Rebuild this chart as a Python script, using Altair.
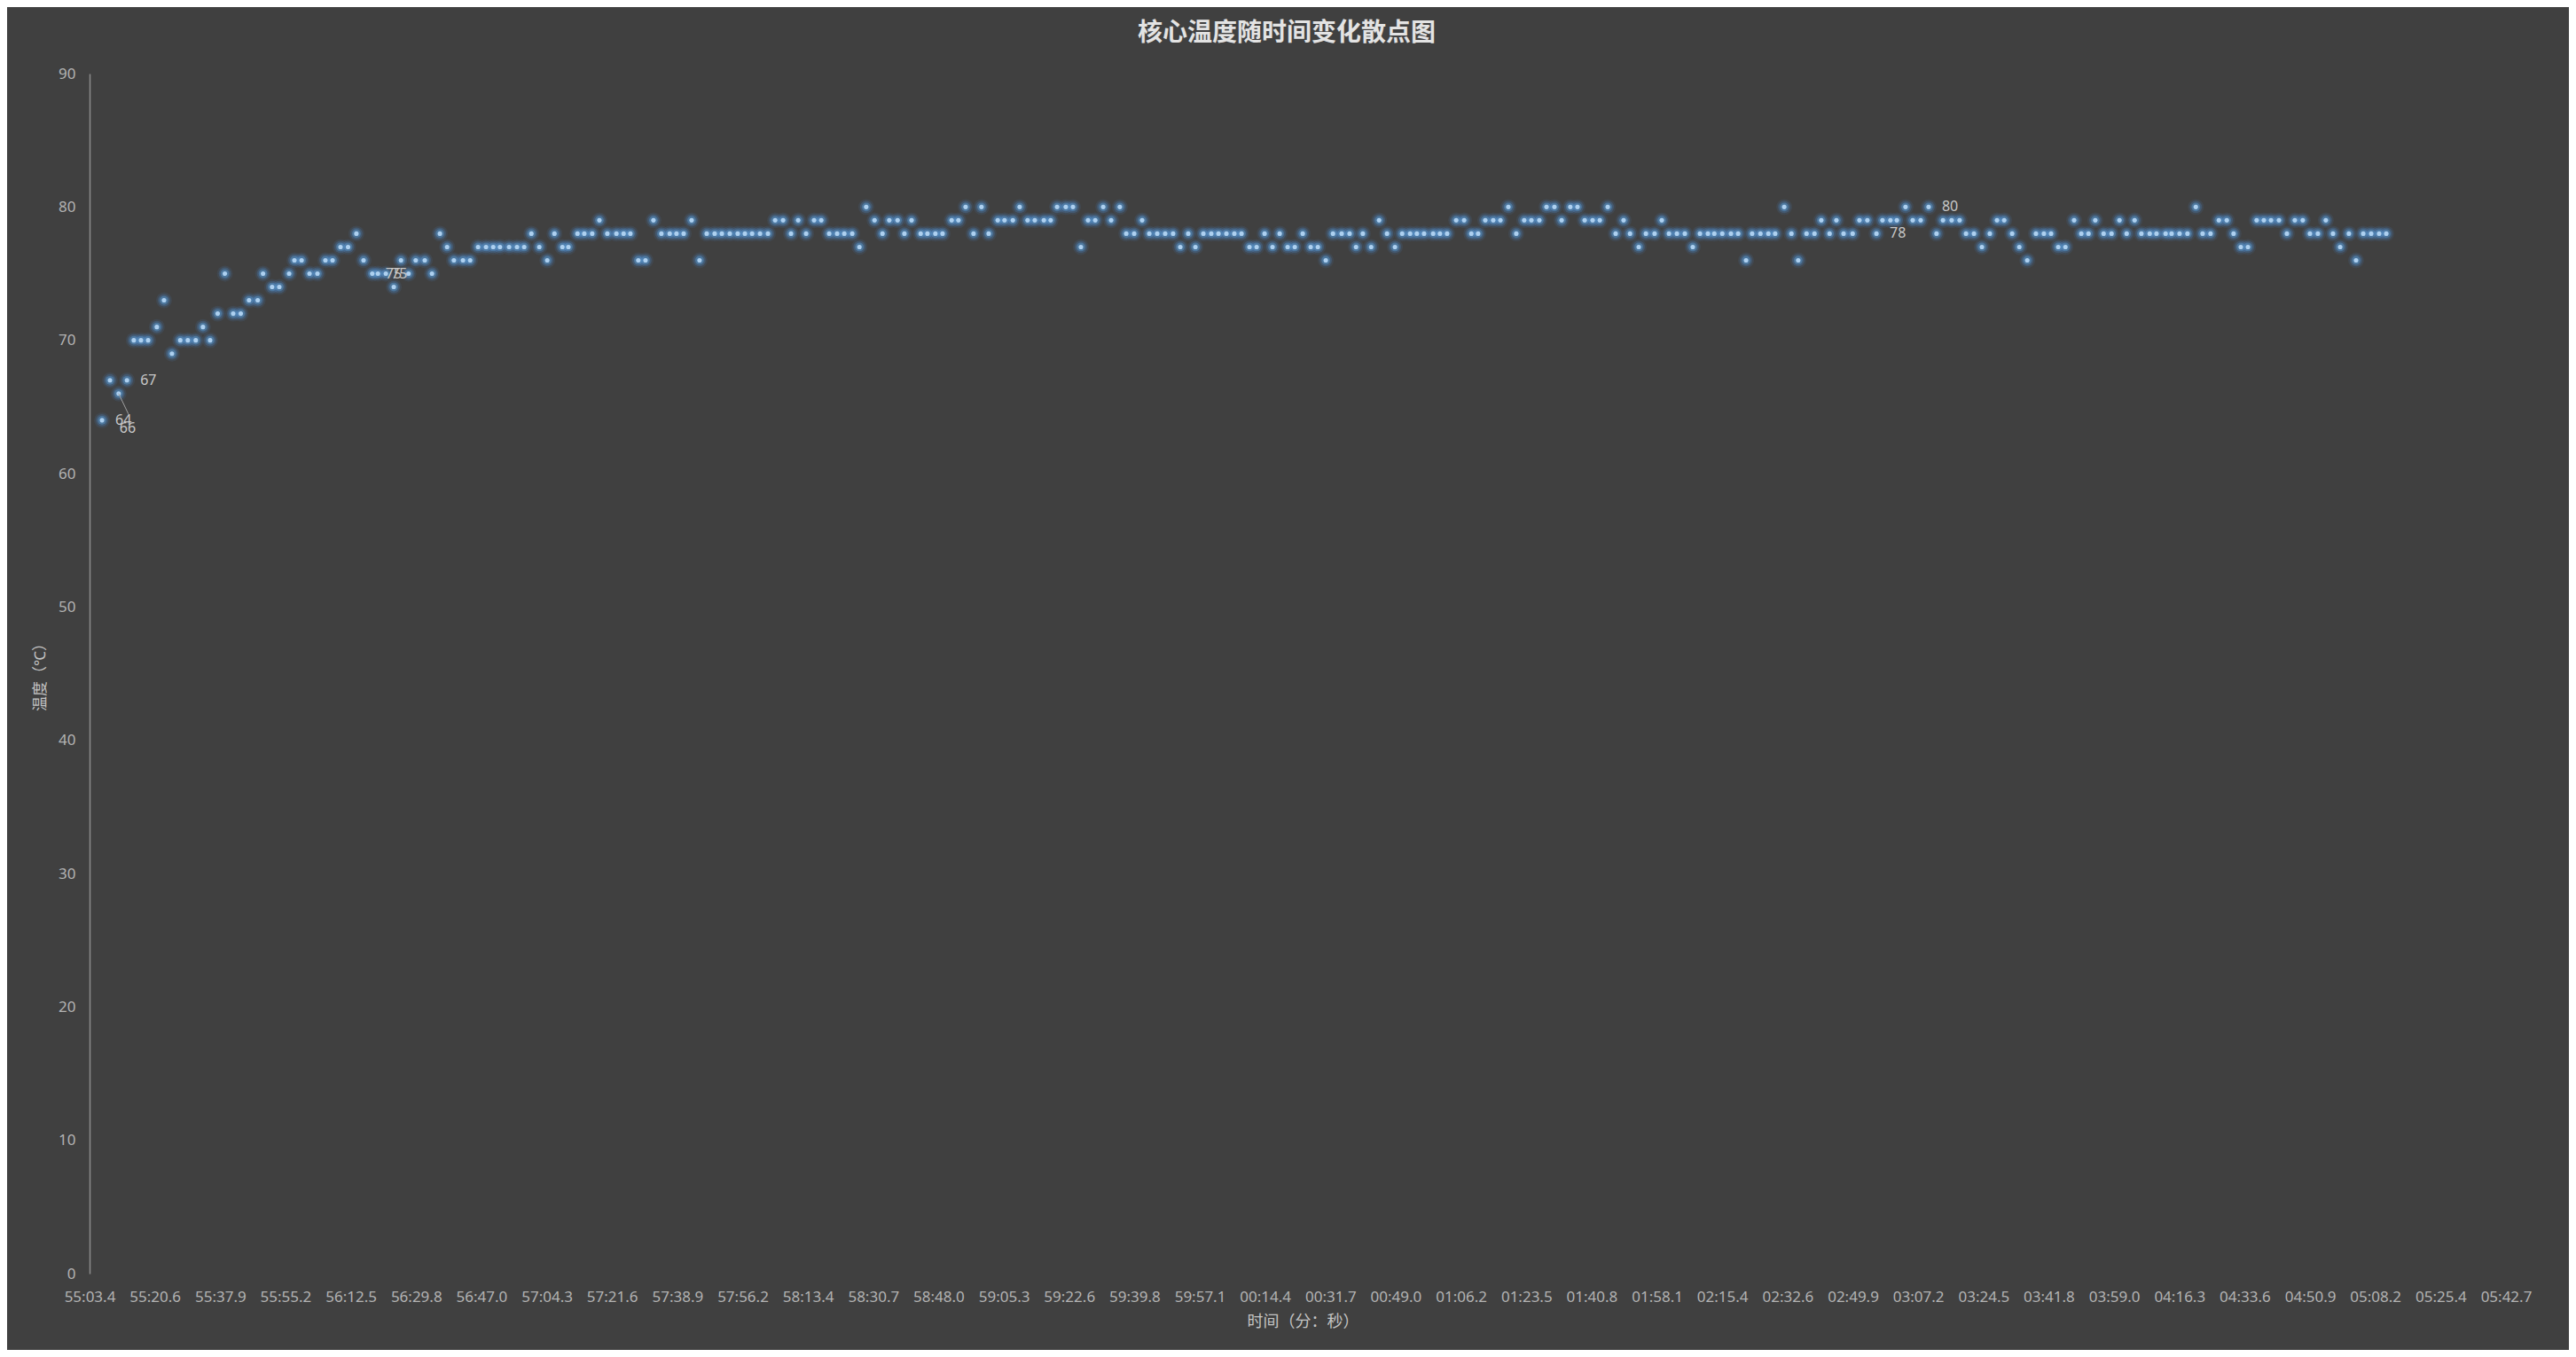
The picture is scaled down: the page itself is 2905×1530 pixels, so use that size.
import altair as alt
import pandas as pd

# ---- data (seconds after 55:03.36, core temperature in °C) ----
times = [
    3.3, 5.4, 7.7, 9.9, 11.7, 13.6, 15.5, 17.8, 19.7, 21.8, 24.0, 26.0, 28.1, 30.0, 31.9,
    33.9, 35.8, 38.0, 40.0, 42.2, 44.5, 45.9, 48.3, 50.2, 52.8, 54.2, 56.1, 58.2, 60.3, 62.4,
    64.3, 66.4, 68.4, 70.6, 72.5, 74.8, 76.3,
    78.4, 80.5, 82.4, 84.4, 86.3, 88.7, 90.6, 92.7, 94.6, 96.4, 98.8, 100.7, 102.8, 104.9, 106.8,
    108.6, 111.0, 113.1, 115.0, 116.9, 119.0, 121.1, 123.0, 125.1, 126.7, 129.1, 130.9, 133.0, 134.9, 137.0,
    139.4, 141.3, 143.1, 145.2, 147.1, 149.2, 151.3, 153.5,
    155.3, 157.2, 159.3, 161.4, 163.3, 165.4, 167.3, 169.4, 171.5, 173.4, 175.3, 177.4, 179.5, 181.4, 183.5,
    185.6, 187.5, 189.6, 191.7, 193.6, 195.7, 197.8, 199.7, 201.8, 203.7, 205.5, 207.7, 209.8, 211.6, 213.8,
    215.6, 217.5, 219.9, 221.7, 223.8, 225.7, 228.1, 229.9, 231.8,
    233.9, 236.0, 237.9, 240.3, 242.1, 244.3, 246.1, 248.2, 250.1, 252.5, 254.3, 256.0, 258.3, 260.2, 262.3,
    264.2, 266.1, 268.2, 270.3, 272.6, 274.3, 276.4, 278.5, 280.4, 282.5, 284.6, 286.7, 288.6, 290.7, 292.6,
    294.7, 296.8, 298.7, 300.8, 302.9, 304.8, 306.9, 308.8,
    310.9, 313.0, 314.9, 317.0, 318.9, 321.0, 323.1, 325.0, 327.1, 329.0, 331.3, 333.4, 335.1, 336.9, 339.1,
    341.2, 343.3, 345.4, 347.3, 349.4, 351.2, 353.1, 355.5, 357.3, 359.2, 361.6, 363.7, 365.6, 367.4, 369.3,
    371.4, 373.3, 375.4, 377.5, 379.6, 381.5, 383.6, 385.5,
    387.6, 389.5, 391.8, 393.7, 395.6, 397.7, 399.6, 401.7, 403.8, 405.9, 407.6, 409.9, 411.8, 414.1, 416.0,
    417.9, 420.0, 422.1, 424.2, 426.1, 428.2, 429.9, 432.0, 434.3, 436.2, 438.3, 439.9, 442.1, 444.2, 446.0,
    448.4, 450.3, 452.1, 454.3, 456.4, 458.2, 460.4, 462.2, 464.1,
    466.5, 468.3, 470.4, 472.8, 474.4, 476.5, 478.2, 480.5, 482.4, 484.5, 486.6, 488.7, 490.4, 492.7, 494.8,
    496.5, 498.6, 500.7, 502.8, 504.7, 506.6, 508.7, 510.6, 512.7, 515.0, 517.1, 519.0, 520.9, 522.8, 525.1,
    527.0, 528.9, 530.7, 532.9, 535.0, 537.1, 539.0, 541.1,
    542.9, 545.1, 546.9, 549.3, 550.9, 553.0, 555.1, 557.3, 559.1, 561.2, 563.4, 565.5, 567.3, 569.2, 571.1,
    573.4, 575.3, 577.2, 579.3, 581.4, 583.5, 585.6, 587.5, 589.6, 591.7, 593.6, 595.5, 597.8, 599.7, 601.6,
    603.7, 605.8, 607.7,
]
temps = [
    64, 67, 66, 67, 70, 70, 70, 71, 73, 69, 70, 70, 70, 71, 70,
    72, 75, 72, 72, 73, 73, 75, 74, 74, 75, 76, 76, 75, 75, 76,
    76, 77, 77, 78, 76, 75, 75,
    75, 74, 76, 75, 76, 76, 75, 78, 77, 76, 76, 76, 77, 77, 77,
    77, 77, 77, 77, 78, 77, 76, 78, 77, 77, 78, 78, 78, 79, 78,
    78, 78, 78, 76, 76, 79, 78, 78,
    78, 78, 79, 76, 78, 78, 78, 78, 78, 78, 78, 78, 78, 79, 79,
    78, 79, 78, 79, 79, 78, 78, 78, 78, 77, 80, 79, 78, 79, 79,
    78, 79, 78, 78, 78, 78, 79, 79, 80,
    78, 80, 78, 79, 79, 79, 80, 79, 79, 79, 79, 80, 80, 80, 77,
    79, 79, 80, 79, 80, 78, 78, 79, 78, 78, 78, 78, 77, 78, 77,
    78, 78, 78, 78, 78, 78, 77, 77,
    78, 77, 78, 77, 77, 78, 77, 77, 76, 78, 78, 78, 77, 78, 77,
    79, 78, 77, 78, 78, 78, 78, 78, 78, 78, 79, 79, 78, 78, 79,
    79, 79, 80, 78, 79, 79, 79, 80,
    80, 79, 80, 80, 79, 79, 79, 80, 78, 79, 78, 77, 78, 78, 79,
    78, 78, 78, 77, 78, 78, 78, 78, 78, 78, 76, 78, 78, 78, 78,
    80, 78, 76, 78, 78, 79, 78, 79, 78,
    78, 79, 79, 78, 79, 79, 79, 80, 79, 79, 80, 78, 79, 79, 79,
    78, 78, 77, 78, 79, 79, 78, 77, 76, 78, 78, 78, 77, 77, 79,
    78, 78, 79, 78, 78, 79, 78, 79,
    78, 78, 78, 78, 78, 78, 78, 80, 78, 78, 79, 79, 78, 77, 77,
    79, 79, 79, 79, 78, 79, 79, 78, 78, 79, 78, 77, 78, 76, 78,
    78, 78, 78,
]

# x-axis tick labels (mm:ss.s), one every 17.28 s
tick_labels = [
    "55:03.4", "55:20.6", "55:37.9", "55:55.2", "56:12.5", "56:29.8", "56:47.0", "57:04.3",
    "57:21.6", "57:38.9", "57:56.2", "58:13.4", "58:30.7", "58:48.0", "59:05.3", "59:22.6",
    "59:39.8", "59:57.1", "00:14.4", "00:31.7", "00:49.0", "01:06.2", "01:23.5", "01:40.8",
    "01:58.1", "02:15.4", "02:32.6", "02:49.9", "03:07.2", "03:24.5", "03:41.8", "03:59.0",
    "04:16.3", "04:33.6", "04:50.9", "05:08.2", "05:25.4", "05:42.7",
]
tick_step = 17.28
y_ticks = [0, 10, 20, 30, 40, 50, 60, 70, 80, 90]

title_text = "核心温度随时间变化散点图"

# points carrying data labels
label_idx = [0, 3, 35, 36, 232, 239]
leader_idx = [2]

df = pd.DataFrame({"t": times, "v": temps})
lab = df.iloc[label_idx].assign(txt=lambda d: d["v"].astype(str))
lead = df.iloc[leader_idx].assign(txt=lambda d: d["v"].astype(str))

tick_vals = [round(i * tick_step, 2) for i in range(len(tick_labels))]
label_arr = "[" + ",".join("'" + s + "'" for s in tick_labels) + "]"

FONT = "Noto Sans, Noto Sans CJK SC"
xs = alt.Scale(domain=[0, tick_vals[-1]], nice=False, zero=False)
ys = alt.Scale(domain=[0, 90], nice=False)

x_enc = alt.X(
    "t:Q", scale=xs,
    axis=alt.Axis(
        values=tick_vals, labelExpr=label_arr + "[round(datum.value / " + str(tick_step) + ")]",
        title="时间（分：秒）", titleFont=FONT, titleFontSize=18, titleFontWeight="normal",
        titleColor="#C4C4C4", titleX=1368, titleY=54, titleBaseline="middle",
        labelFont=FONT, labelFontSize=17, labelColor="#B3B3B3", labelPadding=26,
        labelBaseline="middle", labelOverlap=False, labelFlush=False,
        domain=False, ticks=False, tickSize=0, grid=False,
    ),
)
y_enc = alt.Y(
    "v:Q", scale=ys,
    axis=alt.Axis(
        values=y_ticks, title="温度（℃）", titleFont=FONT, titleFontSize=17,
        titleFontWeight="normal", titleColor="#C4C4C4", titleAngle=-90,
        titleX=-56, titleY=676, titleAlign="center", titleBaseline="middle",
        labelFont=FONT, labelFontSize=17, labelColor="#B3B3B3", labelPadding=16,
        domain=True, domainColor="#8C8C8C", domainWidth=1.5,
        ticks=False, tickSize=0, grid=False,
    ),
)

base = alt.Chart(df).encode(x=x_enc, y=y_enc)
glow1 = base.mark_circle(size=320, color="#4A86C5", opacity=0.13)
glow2 = base.mark_circle(size=190, color="#4A86C5", opacity=0.28)
glow3 = base.mark_circle(size=95, color="#5B9BD5", opacity=0.45)
core = base.mark_circle(size=26, color="#ADD0F0", opacity=1)

labels = alt.Chart(lab).mark_text(
    align="left", baseline="middle", dx=15, font=FONT, fontSize=16, color="#C8C8C8"
).encode(x=alt.X("t:Q", scale=xs), y=alt.Y("v:Q", scale=ys), text="txt:N")

lead_text = alt.Chart(lead).mark_text(
    align="left", baseline="middle", dx=1, dy=39, font=FONT, fontSize=16, color="#C8C8C8"
).encode(x=alt.X("t:Q", scale=xs), y=alt.Y("v:Q", scale=ys), text="txt:N")

lead_line = alt.Chart(lead).mark_rule(
    color="#A0A0A0", strokeWidth=1, x2Offset=11, y2Offset=23
).encode(
    x=alt.X("t:Q", scale=xs), y=alt.Y("v:Q", scale=ys),
    x2=alt.X2("t:Q"), y2=alt.Y2("v:Q"),
)

title_mark = alt.Chart(pd.DataFrame({"txt": [title_text]})).mark_text(
    align="center", baseline="middle", font=FONT, fontSize=28, fontWeight="bold",
    color="#E3E3E3"
).encode(x=alt.value(1350), y=alt.value(-45), text="txt:N")

chart = alt.layer(glow1, glow2, glow3, core, lead_line, labels, lead_text, title_mark).properties(
    width=2725, height=1353,
    autosize=alt.AutoSizeParams(type="none"),
    padding={"left": 93, "top": 75, "right": 71, "bottom": 86},
).configure(background="#404040").configure_view(stroke=None)

chart.save("out.html", embed_options={"renderer": "svg", "actions": False})
